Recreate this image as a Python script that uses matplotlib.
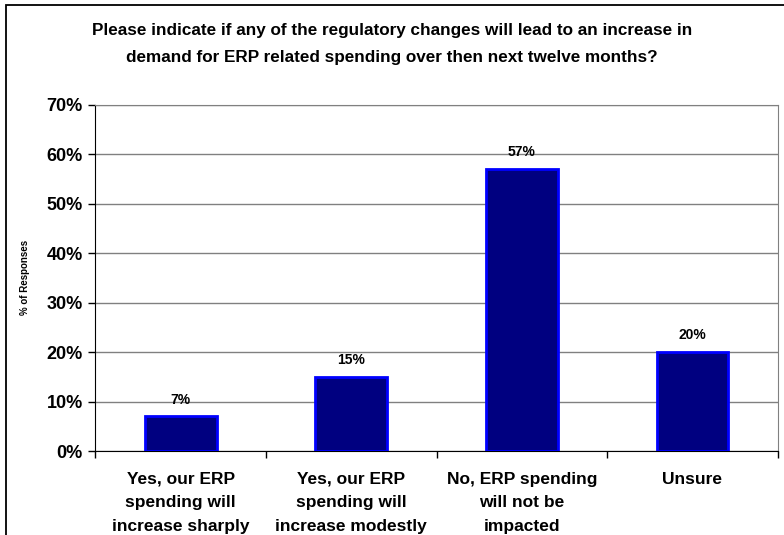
import numpy as np
import matplotlib.pyplot as plt
from matplotlib.patches import Rectangle
from matplotlib.ticker import FixedLocator, PercentFormatter

plt.rcParams['font.family'] = ['Liberation Sans', 'DejaVu Sans']
plt.rcParams['font.weight'] = 'bold'

categories = ['Yes, our ERP\nspending will\nincrease sharply',
              'Yes, our ERP\nspending will\nincrease modestly',
              'No, ERP spending\nwill not be\nimpacted',
              'Unsure']
responses = [7, 15, 57, 20]
title = ('Please indicate if any of the regulatory changes will lead to an increase in\n'
         'demand for ERP related spending over then next twelve months?')

fig = plt.figure(figsize=(7.84, 5.35), dpi=100)
ax = fig.add_axes([0.1218, 0.157, 0.870, 0.647])

# outer chart frame (left and top edges only show)
fig.patches.append(Rectangle((6 / 784, -0.2), 1.2, 1 - 5 / 535 + 0.2,
                             transform=fig.transFigure, fill=False,
                             edgecolor='black', linewidth=1.3))

x = np.arange(len(categories))
bars = ax.bar(x, responses, width=0.42, color='#000080',
              edgecolor='#0000FF', linewidth=2, zorder=3)

for b, v in zip(bars, responses):
    ax.text(b.get_x() + b.get_width() / 2, v + 2.0, f'{v}%',
            ha='center', va='bottom', fontsize=10, fontweight='bold')

ax.set_xlim(-0.5, len(categories) - 0.5)
ax.set_ylim(0, 70)
ax.set_yticks(np.arange(0, 71, 10))
ax.yaxis.set_major_formatter(PercentFormatter(decimals=0))
ax.grid(axis='y', color='#808080', linewidth=1, zorder=0)

ax.set_xticks(x)
ax.set_xticklabels(categories, fontsize=12.5, fontweight='bold')
for lbl in ax.get_xticklabels():
    lbl.set_linespacing(1.72)
ax.xaxis.set_minor_locator(FixedLocator(np.arange(-0.5, len(categories), 1)))
ax.tick_params(axis='x', which='major', length=0, pad=15)
ax.tick_params(axis='x', which='minor', length=5, width=1, color='black')
ax.tick_params(axis='y', length=5, width=1, labelsize=13, pad=4)
for lbl in ax.get_yticklabels():
    lbl.set_fontweight('bold')

ax.spines['left'].set_color('black')
ax.spines['bottom'].set_color('black')
ax.spines['top'].set_color('#808080')
ax.spines['right'].set_color('#808080')

ax.set_ylabel('% of Responses', fontsize=7, fontweight='bold', labelpad=12)
fig.text(0.5, 1 - 44 / 535, title, ha='center', va='center',
         fontsize=12.3, fontweight='bold', linespacing=2.0)

fig.savefig('out.png', dpi=100)
